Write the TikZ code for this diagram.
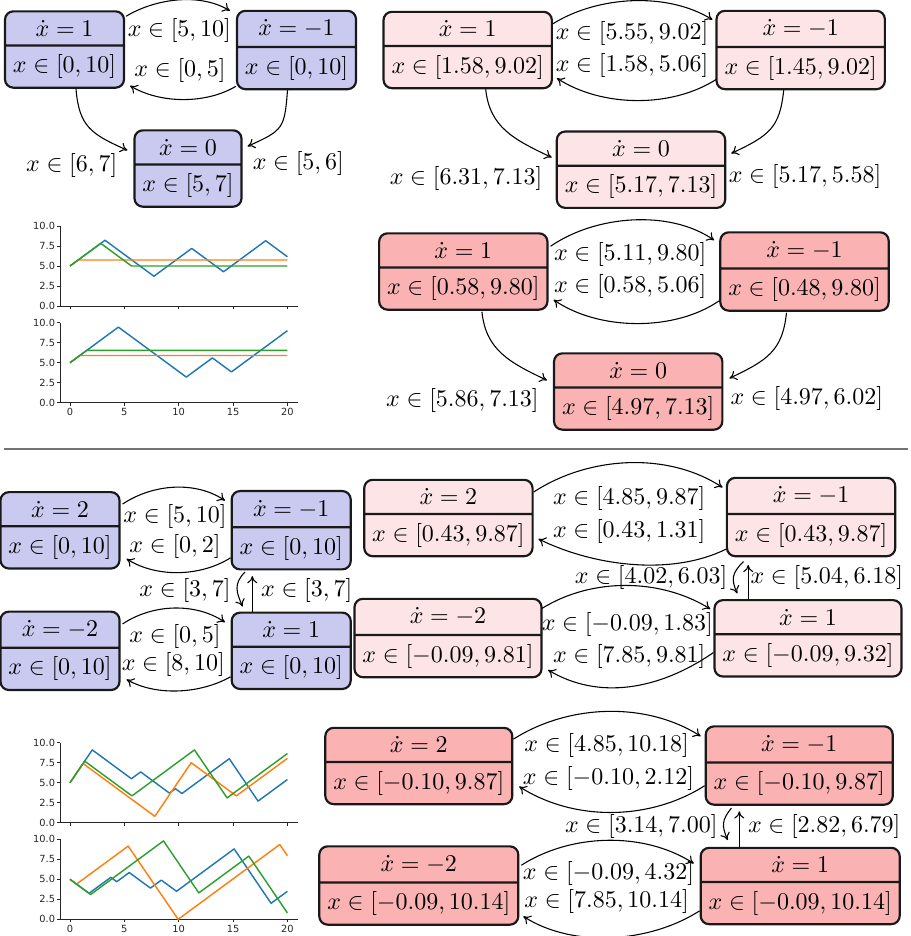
\documentclass[tikz,border=0pt]{standalone}
\usepackage{fontspec}
\newfontfamily\tickfont{DejaVu Sans}
\usetikzlibrary{shapes.multipart,calc,arrows.meta}
\definecolor{nblue}{RGB}{202,202,240}
\definecolor{npink}{RGB}{253,228,230}
\definecolor{nred}{RGB}{250,178,178}
\definecolor{mplblue}{HTML}{1F77B4}
\definecolor{mplorange}{HTML}{FF7F0E}
\definecolor{mplgreen}{HTML}{2CA02C}

\newcommand{\plotframe}[2]{%
  \begin{scope}[shift={(70,#1)}, x=4.5296pt, y=3.3336pt]
    \draw[spine] (-0.92,10) -- (-0.92,0) -- (20.96,0);
    \foreach \v/\l in {0/0.0,2.5/2.5,5/5.0,7.5/7.5,10/10.0}{
      \draw[spine] (-0.92,\v) -- (-1.2,\v);
      \node[ticklbl, anchor=east] at (-1.33,\v) {\l};}
    \foreach \t in {0,5,10,15,20}{
      \draw[spine] (\t,0) -- (\t,-0.375);}
    \ifnum#2=1
      \foreach \t in {0,5,10,15,20}{\node[ticklbl] at (\t,-1.2) {\t};}
    \fi
  \end{scope}}

\newcommand{\plotdata}[4]{%
  \begin{scope}[shift={(70,#1)}, x=4.5296pt, y=3.3336pt, line width=0.6pt, line join=round]
    \draw[mplblue] plot coordinates {#2};
    \draw[mplorange] plot coordinates {#3};
    \draw[mplgreen] plot coordinates {#4};
  \end{scope}}

\begin{document}
\begin{tikzpicture}[x=0.4167pt, y=-0.4167pt,
  state/.style={rectangle split, rectangle split parts=2, draw=black!90,
    line width=0.9pt, rounded corners=3.5pt},
  sblue/.style={state, fill=nblue},
  spink/.style={state, fill=npink},
  sred/.style={state, fill=nred},
  conn/.style={-{To[length=3pt,width=4.2pt]}, line width=0.45pt},
  lbl/.style={inner sep=0pt},
  spine/.style={line width=0.4pt, black!85},
  ticklbl/.style={inner sep=0pt, text=black!85, font=\tickfont\fontsize{4.1}{5}\selectfont},
  sepline/.style={line width=0.7pt, black!55}]
\useasboundingbox (0,0) rectangle (911,936);

% ---------- top-left automaton ----------
\node[sblue] (A1) at (64.5,49.5) {$\dot x = 1$ \nodepart{two} $x \in [0,10]$};
\node[sblue] (A2) at (296.5,50) {$\dot x = -1$ \nodepart{two} $x \in [0,10]$};
\node[sblue] (A3) at (188,168.5) {$\dot x = 0$ \nodepart{two} $x \in [5,7]$};
\draw[conn] ($(A1.north east)+(1,6)$) .. controls +(30,-18) and +(-30,-18) .. ($(A2.north west)+(-6,1)$);
\draw[conn] ($(A2.south west)+(0,-4)$) .. controls +(-30,18) and +(30,18) .. ($(A1.south east)+(5,-3)$);
\draw[conn] ($(A1.south)+(11.5,0)$) .. controls +(3,38) and +(-36,-16) .. ($(A3.north west)+(-6,21)$);
\draw[conn] ($(A2.south)+(-9,0)$) .. controls +(-3,38) and +(36,-16) .. ($(A3.north east)+(5,17)$);
\node[lbl] (la1) at (179.3,30.5) {$x \in [5,10]$};
\node[lbl] (la2) at (180,70.7) {$x \in [0,5]$};
\node[lbl] (la3) at (71.7,165) {$x \in [6,7]$};
\node[lbl] (la4) at (298.3,163.3) {$x \in [5,6]$};

% ---------- top-right automaton ----------
\node[spink] (B1) at (467.7,50) {$\dot x = 1$ \nodepart{two} $x \in [1.58,9.02]$};
\node[spink] (B2) at (800.7,50) {$\dot x = -1$ \nodepart{two} $x \in [1.45,9.02]$};
\node[spink] (B3) at (641,169.7) {$\dot x = 0$ \nodepart{two} $x \in [5.17,7.13]$};
\draw[conn] ($(B1.north east)+(0,13)$) .. controls +(45,-28) and +(-45,-28) .. ($(B2.north west)+(-3,10)$);
\draw[conn] ($(B2.south west)+(1,-11)$) .. controls +(-45,29) and +(45,29) .. ($(B1.south east)+(4,-11)$);
\draw[conn] ($(B1.south)+(18,0)$) .. controls +(4,38) and +(-38,-18) .. ($(B3.north west)+(-4,27)$);
\draw[conn] ($(B2.south)+(-17,0)$) .. controls +(-4,38) and +(38,-18) .. ($(B3.north east)+(5,23)$);
\node[lbl] (lb1) at (632,33.3) {$x \in [5.55,9.02]$};
\node[lbl] (lb2) at (632,65) {$x \in [1.58,5.06]$};
\node[lbl] (lb3) at (466,178.3) {$x \in [6.31,7.13]$};
\node[lbl] (lb4) at (805,176.7) {$x \in [5.17,5.58]$};

% ---------- middle-right automaton ----------
\node[sred] (C1) at (463.3,271.5) {$\dot x = 1$ \nodepart{two} $x \in [0.58,9.80]$};
\node[sred] (C2) at (804.5,271.5) {$\dot x = -1$ \nodepart{two} $x \in [0.48,9.80]$};
\node[sred] (C3) at (638.2,391.5) {$\dot x = 0$ \nodepart{two} $x \in [4.97,7.13]$};
\draw[conn] ($(C1.north east)+(2,14)$) .. controls +(45,-31) and +(-45,-31) .. ($(C2.north west)+(-5,9)$);
\draw[conn] ($(C2.south west)+(0,-11)$) .. controls +(-45,31) and +(45,31) .. ($(C1.south east)+(5,-11)$);
\draw[conn] ($(C1.south)+(18.6,1)$) .. controls +(4,38) and +(-38,-18) .. ($(C3.north west)+(-6,28)$);
\draw[conn] ($(C2.south)+(-18,1)$) .. controls +(-4,38) and +(38,-18) .. ($(C3.north east)+(6,26)$);
\node[lbl] (lc1) at (630.2,254.3) {$x \in [5.11,9.80]$};
\node[lbl] (lc2) at (630.2,286.7) {$x \in [0.58,5.06]$};
\node[lbl] (lc3) at (462.4,400) {$x \in [5.86,7.13]$};
\node[lbl] (lc4) at (806.8,398.3) {$x \in [4.97,6.02]$};

% ---------- top plots ----------
\plotframe{306}{0}
\plotdata{306}{(0,5) (3.22,8.22) (7.72,3.72) (11.2,7.2) (14.12,4.28) (18.0,8.16) (20,6.16)}
  {(0,5) (0.75,5.75) (20,5.75)}
  {(0,5) (2.83,7.83) (5.66,5) (20,5)}
\plotframe{402.7}{1}
\plotdata{402.7}{(0,5) (4.45,9.45) (10.7,3.2) (13.1,5.6) (14.85,3.85) (20,9.0)}
  {(0,5) (0.9,5.9) (20,5.9)}
  {(0,5) (1.55,6.55) (20,6.55)}

% ---------- separator ----------
\draw[sepline] (4,449) -- (908,449);

% ---------- bottom-left automaton ----------
\node[sblue] (D1) at (60,530.3) {$\dot x = 2$ \nodepart{two} $x \in [0,10]$};
\node[sblue] (D2) at (291.2,530.2) {$\dot x = -1$ \nodepart{two} $x \in [0,10]$};
\node[sblue] (D3) at (60,650.8) {$\dot x = -2$ \nodepart{two} $x \in [0,10]$};
\node[sblue] (D4) at (291.2,650.8) {$\dot x = 1$ \nodepart{two} $x \in [0,10]$};
\draw[conn] ($(D1.north east)+(2,13)$) .. controls +(30,-20) and +(-30,-20) .. ($(D2.north west)+(-5.6,10.6)$);
\draw[conn] ($(D2.south west)+(0,-12.7)$) .. controls +(-30,19) and +(30,19) .. ($(D1.south east)+(6,-10.7)$);
\draw[conn] ($(D2.south west)+(14.4,1.6)$) .. controls +(-12,12) and +(-6,-14) .. ($(D4.north west)+(12,-5)$);
\coordinate (d4t) at ($(D4.north west)+(21.7,0)$);
\draw[conn] (d4t) -- ($(d4t |- D2.south)+(0,5.6)$);
\draw[conn] ($(D3.north east)+(2,13.4)$) .. controls +(30,-20) and +(-30,-20) .. ($(D4.north west)+(-5.6,10.7)$);
\draw[conn] ($(D4.south west)+(0,-13.3)$) .. controls +(-30,17) and +(30,17) .. ($(D3.south east)+(6,-11.6)$);
\node[lbl] (ld1) at (175,516.7) {$x \in [5,10]$};
\node[lbl] (ld2) at (175,546) {$x \in [0,2]$};
\node[lbl] (ld3) at (185,590.7) {$x \in [3,7]$};
\node[lbl] (ld4) at (306.7,590.7) {$x \in [3,7]$};
\node[lbl] (ld5) at (175,636.7) {$x \in [0,5]$};
\node[lbl] (ld6) at (173.3,664.3) {$x \in [8,10]$};

% ---------- bottom-right upper automaton ----------
\node[spink] (E1) at (448.4,518) {$\dot x = 2$ \nodepart{two} $x \in [0.43,9.87]$};
\node[spink] (E2) at (811.1,517) {$\dot x = -1$ \nodepart{two} $x \in [0.43,9.87]$};
\node[spink] (E3) at (448,638) {$\dot x = -2$ \nodepart{two} $x \in [-0.09,9.81]$};
\node[spink] (E4) at (808,638.3) {$\dot x = 1$ \nodepart{two} $x \in [-0.09,9.32]$};
\draw[conn] ($(E1.north east)+(0,13.3)$) .. controls +(55,-36) and +(-55,-36) .. ($(E2.north west)+(-3.3,10.7)$);
\draw[conn] ($(E2.south west)+(0,-8)$) .. controls +(-55,27) and +(55,27) .. ($(E1.south east)+(4.8,-18.3)$);
\draw[conn] ($(E2.south west)+(17.6,4.3)$) .. controls +(-12,12) and +(-6,-14) .. ($(E4.north west)+(23.8,-5.7)$);
\coordinate (e4t) at ($(E4.north west)+(34.8,0)$);
\draw[conn] (e4t) -- ($(e4t |- E2.south)+(0,7.7)$);
\draw[conn] ($(E3.north east)+(-0.7,10.7)$) .. controls +(50,-31) and +(-50,-31) .. ($(E4.north west)+(-3,10)$);
\draw[conn] ($(E4.south west)+(0,-25)$) .. controls +(-55,38) and +(50,30) .. ($(E3.south east)+(5.5,-8.3)$);
\node[lbl] (le1) at (629.2,498.3) {$x \in [4.85,9.87]$};
\node[lbl] (le2) at (629.2,531.7) {$x \in [0.43,1.31]$};
\node[lbl] (le3) at (651.1,577.7) {$x \in [4.02,6.03]$};
\node[lbl] (le4) at (826.8,577.7) {$x \in [5.04,6.18]$};
\node[lbl] (le5) at (627.3,624) {$x \in [-0.09,1.83]$};
\node[lbl] (le6) at (629.2,656.7) {$x \in [7.85,9.81]$};

% ---------- bottom-right lower automaton ----------
\node[sred] (F1) at (418.8,766) {$\dot x = 2$ \nodepart{two} $x \in [-0.10,9.87]$};
\node[sred] (F2) at (799.2,765.5) {$\dot x = -1$ \nodepart{two} $x \in [-0.10,9.87]$};
\node[sred] (F3) at (418.8,885.5) {$\dot x = -2$ \nodepart{two} $x \in [-0.09,10.14]$};
\node[sred] (F4) at (800.2,886) {$\dot x = 1$ \nodepart{two} $x \in [-0.09,10.14]$};
\draw[conn] ($(F1.north east)+(0,12.4)$) .. controls +(55,-35) and +(-55,-35) .. ($(F2.north west)+(-3.9,11)$);
\draw[conn] ($(F2.south west)+(0,-20)$) .. controls +(-55,35) and +(55,35) .. ($(F1.south east)+(5.8,-18.7)$);
\draw[conn] ($(F2.south west)+(26.9,2.3)$) .. controls +(-10,12) and +(-6,-14) .. ($(F4.north west)+(28.1,-6.7)$);
\coordinate (f4t) at ($(F4.north west)+(39.7,0)$);
\draw[conn] (f4t) -- ($(f4t |- F2.south)+(0,5.6)$);
\draw[conn] ($(F3.north east)+(1.9,20)$) .. controls +(50,-32) and +(-50,-32) .. ($(F4.north west)+(-5.8,16.7)$);
\draw[conn] ($(F4.south west)+(0,-14.4)$) .. controls +(-50,32) and +(50,32) .. ($(F3.south east)+(3.9,-9.4)$);
\node[lbl] (lf1) at (606.6,745) {$x \in [4.85,10.18]$};
\node[lbl] (lf2) at (608.5,778.3) {$x \in [-0.10,2.12]$};
\node[lbl] (lf3) at (641.3,826.7) {$x \in [3.14,7.00]$};
\node[lbl] (lf4) at (824.2,826.7) {$x \in [2.82,6.79]$};
\node[lbl] (lf5) at (608.5,873.3) {$x \in [-0.09,4.32]$};
\node[lbl] (lf6) at (606.6,901.7) {$x \in [7.85,10.14]$};

% ---------- bottom plots ----------
\plotframe{822.7}{0}
\plotdata{822.7}{(0,5) (2.05,9.1) (5.65,5.5) (6.5,6.35) (9.15,3.7) (9.7,4.25) (10.3,3.65) (14.65,8.0) (17.3,2.7) (20,5.4)}
  {(0,5) (1.2,7.4) (7.8,0.8) (11.15,7.5) (15.3,3.35) (20,8.05)}
  {(0,5) (1.35,7.7) (5.7,3.35) (11.45,9.1) (14.45,3.1) (20,8.65)}
\plotframe{919.3}{1}
\plotdata{919.3}{(0,5) (1.75,3.25) (3.75,5.25) (4.3,4.7) (5.45,5.85) (7.4,3.9) (8.4,4.9) (9.8,3.5) (15.1,8.8) (18.5,2.0) (20,3.5)}
  {(0,5) (0.6,4.4) (5.35,9.15) (9.95,0) (19.3,9.35) (20,7.95)}
  {(0,5) (1.9,3.1) (8.6,9.8) (11.85,3.3) (16.45,7.9) (20,0.8)}
\end{tikzpicture}
\end{document}
